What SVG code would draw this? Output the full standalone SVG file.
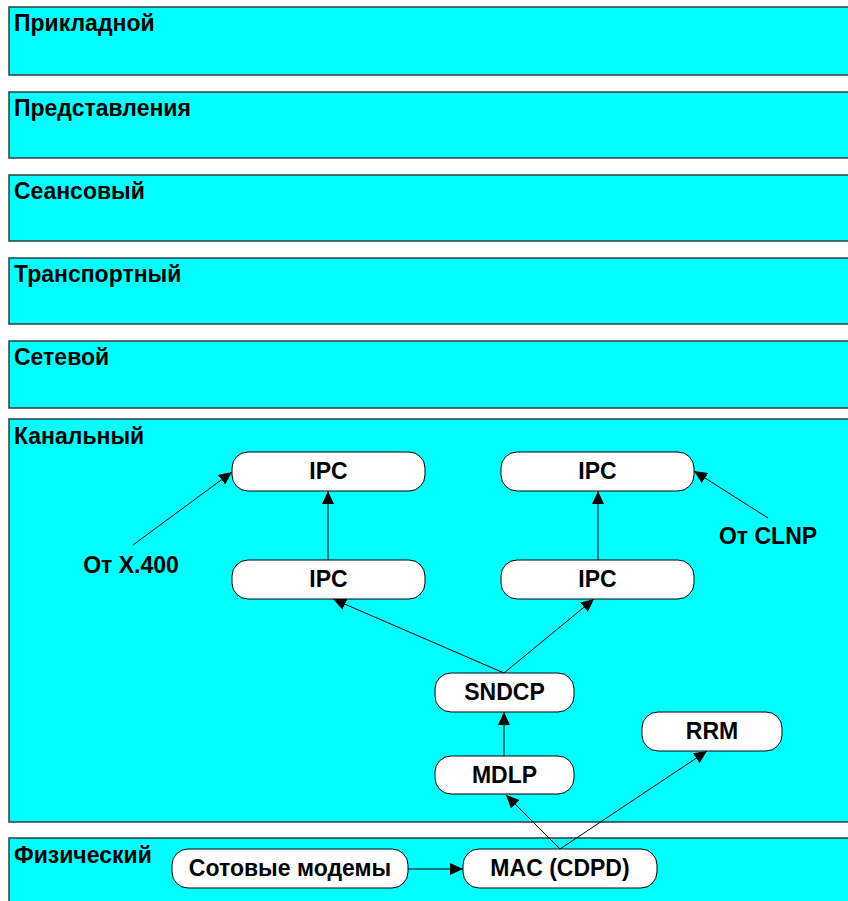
<svg xmlns="http://www.w3.org/2000/svg" width="848" height="901" viewBox="0 0 848 901">
<style>
.band{fill:#00FFFF;stroke:#2f3f3f;stroke-width:1.5}
.bl{font-family:"Liberation Sans",Arial,sans-serif;font-weight:bold;font-size:23px;fill:#000}
.node{fill:#fff;stroke:#000;stroke-width:1}
.nt{font-family:"Liberation Sans",Arial,sans-serif;font-weight:bold;font-size:23px;fill:#000;text-anchor:middle}
.c{stroke:#000;stroke-width:1;fill:none;marker-end:url(#ah)}
</style>
<defs>
<marker id="ah" markerUnits="userSpaceOnUse" markerWidth="14" markerHeight="12" refX="13" refY="6" orient="auto">
<path d="M0,0 L13,6 L0,12 z" fill="#000"/>
</marker>
</defs>
<g id="layers">
<g id="l7"><rect class="band" x="9" y="7" width="860" height="68"/><text class="bl" x="14" y="31">Прикладной</text></g>
<g id="l6"><rect class="band" x="9" y="92" width="860" height="66"/><text class="bl" x="14" y="116">Представления</text></g>
<g id="l5"><rect class="band" x="9" y="175" width="860" height="66"/><text class="bl" x="14" y="199">Сеансовый</text></g>
<g id="l4"><rect class="band" x="9" y="258" width="860" height="66"/><text class="bl" x="14" y="282">Транспортный</text></g>
<g id="l3"><rect class="band" x="9" y="341" width="860" height="67"/><text class="bl" x="14" y="365">Сетевой</text></g>
<g id="l2"><rect class="band" x="9" y="419" width="860" height="403"/><text class="bl" x="14" y="444">Канальный</text></g>
<g id="l1"><rect class="band" x="9" y="838" width="860" height="80"/><text class="bl" x="14" y="863">Физический</text></g>
</g>
<g id="connectors">
<line class="c" x1="408" y1="869" x2="463" y2="869"/>
<line class="c" x1="560" y1="849" x2="506" y2="795"/>
<line class="c" x1="560" y1="849" x2="707" y2="751"/>
<line class="c" x1="504" y1="756" x2="504" y2="712"/>
<line class="c" x1="504" y1="673" x2="333" y2="599"/>
<line class="c" x1="504" y1="673" x2="594" y2="599"/>
<line class="c" x1="328" y1="560" x2="328" y2="491"/>
<line class="c" x1="598" y1="560" x2="598" y2="491"/>
<line class="c" x1="133" y1="545" x2="232" y2="472"/>
<line class="c" x1="768" y1="518" x2="694" y2="471"/>
</g>
<g id="n_ipc1"><rect class="node" x="232" y="452" width="193" height="39" rx="16"/><text class="nt" x="328.5" y="479">IPC</text></g>
<g id="n_ipc2"><rect class="node" x="501" y="452" width="193" height="39" rx="16"/><text class="nt" x="597.5" y="479">IPC</text></g>
<g id="n_ipc3"><rect class="node" x="232" y="560" width="193" height="39" rx="16"/><text class="nt" x="328.5" y="587">IPC</text></g>
<g id="n_ipc4"><rect class="node" x="501" y="560" width="193" height="39" rx="16"/><text class="nt" x="597.5" y="587">IPC</text></g>
<g id="n_sndcp"><rect class="node" x="435" y="673" width="139" height="39" rx="16"/><text class="nt" x="504.5" y="700">SNDCP</text></g>
<g id="n_mdlp"><rect class="node" x="435" y="756" width="139" height="38" rx="16"/><text class="nt" x="504.5" y="783">MDLP</text></g>
<g id="n_rrm"><rect class="node" x="642" y="712" width="140" height="39" rx="16"/><text class="nt" x="712" y="739">RRM</text></g>
<g id="n_modem"><rect class="node" x="172" y="849" width="236" height="39" rx="16"/><text class="nt" x="290" y="876">Сотовые модемы</text></g>
<g id="n_mac"><rect class="node" x="463" y="849" width="194" height="39" rx="16"/><text class="nt" x="560" y="876">MAC (CDPD)</text></g>
<g id="lbl_x400"><text class="nt" x="131" y="573">От X.400</text></g>
<g id="lbl_clnp"><text class="nt" x="768" y="544">От CLNP</text></g>
</svg>
